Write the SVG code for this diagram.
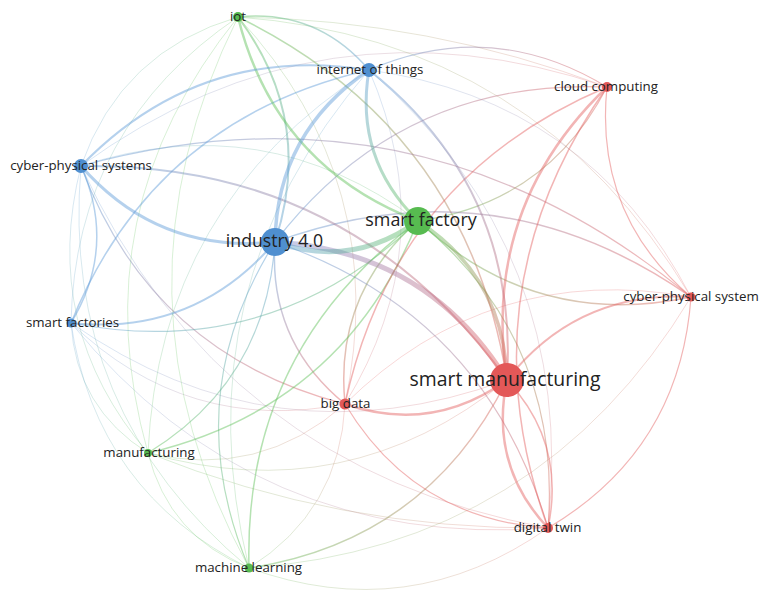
<svg xmlns="http://www.w3.org/2000/svg" width="759" height="598" viewBox="0 0 759 598">
<style>
.e{fill:none;stroke-opacity:0.45;stroke-linecap:round}
.f{fill:none;stroke-opacity:0.24;stroke-linecap:round}
.b{stroke:#5c9ad6}.g{stroke:#5cbf55}.r{stroke:#e25b5b}
.nb{fill:#4f8fd0}.ng{fill:#57bb50}.nr{fill:#e35858}
text{font-family:"Open Sans","Liberation Sans",sans-serif;fill:#222;text-anchor:middle}
.s{font-size:13.3px}
</style>
<defs>
<linearGradient id="g1" gradientUnits="userSpaceOnUse" x1="275" y1="242" x2="418" y2="221"><stop offset="0" stop-color="#5c9ad6"/><stop offset="1" stop-color="#5cbf55"/></linearGradient>
<linearGradient id="g2" gradientUnits="userSpaceOnUse" x1="507" y1="380" x2="275" y2="242"><stop offset="0" stop-color="#e25b5b"/><stop offset="1" stop-color="#7f8fd0"/></linearGradient>
<linearGradient id="g7" gradientUnits="userSpaceOnUse" x1="607" y1="87" x2="369" y2="70"><stop offset="0" stop-color="#e25b5b"/><stop offset="1" stop-color="#5c9ad6"/></linearGradient>
<linearGradient id="g8" gradientUnits="userSpaceOnUse" x1="369" y1="70" x2="418" y2="221"><stop offset="0" stop-color="#5c9ad6"/><stop offset="1" stop-color="#5cbf55"/></linearGradient>
<linearGradient id="g9" gradientUnits="userSpaceOnUse" x1="507" y1="380" x2="369" y2="70"><stop offset="0" stop-color="#e25b5b"/><stop offset="1" stop-color="#5c9ad6"/></linearGradient>
<linearGradient id="g11" gradientUnits="userSpaceOnUse" x1="275" y1="242" x2="238" y2="17"><stop offset="0" stop-color="#5c9ad6"/><stop offset="1" stop-color="#5cbf55"/></linearGradient>
<linearGradient id="g12" gradientUnits="userSpaceOnUse" x1="369" y1="70" x2="238" y2="17"><stop offset="0" stop-color="#5c9ad6"/><stop offset="1" stop-color="#5cbf55"/></linearGradient>
<linearGradient id="g13" gradientUnits="userSpaceOnUse" x1="607" y1="87" x2="238" y2="17"><stop offset="0" stop-color="#e25b5b"/><stop offset="1" stop-color="#5cbf55"/></linearGradient>
<linearGradient id="g13b" gradientUnits="userSpaceOnUse" x1="691" y1="297" x2="238" y2="17"><stop offset="0" stop-color="#e25b5b"/><stop offset="1" stop-color="#5cbf55"/></linearGradient>
<linearGradient id="g14" gradientUnits="userSpaceOnUse" x1="507" y1="380" x2="238" y2="17"><stop offset="0" stop-color="#e25b5b"/><stop offset="1" stop-color="#5cbf55"/></linearGradient>
<linearGradient id="g15" gradientUnits="userSpaceOnUse" x1="238" y1="17" x2="81" y2="166"><stop offset="0" stop-color="#5cbf55"/><stop offset="1" stop-color="#5c9ad6"/></linearGradient>
<linearGradient id="g18" gradientUnits="userSpaceOnUse" x1="238" y1="17" x2="71" y2="323"><stop offset="0" stop-color="#5cbf55"/><stop offset="1" stop-color="#5c9ad6"/></linearGradient>
<linearGradient id="g19" gradientUnits="userSpaceOnUse" x1="345" y1="404" x2="238" y2="17"><stop offset="0" stop-color="#e25b5b"/><stop offset="1" stop-color="#5cbf55"/></linearGradient>
<linearGradient id="g20" gradientUnits="userSpaceOnUse" x1="507" y1="380" x2="81" y2="166"><stop offset="0" stop-color="#e25b5b"/><stop offset="1" stop-color="#5c9ad6"/></linearGradient>
<linearGradient id="g21" gradientUnits="userSpaceOnUse" x1="691" y1="297" x2="81" y2="166"><stop offset="0" stop-color="#e25b5b"/><stop offset="1" stop-color="#5c9ad6"/></linearGradient>
<linearGradient id="g23" gradientUnits="userSpaceOnUse" x1="81" y1="166" x2="148" y2="453"><stop offset="0" stop-color="#5c9ad6"/><stop offset="1" stop-color="#5cbf55"/></linearGradient>
<linearGradient id="g25" gradientUnits="userSpaceOnUse" x1="71" y1="323" x2="418" y2="221"><stop offset="0" stop-color="#5c9ad6"/><stop offset="1" stop-color="#5cbf55"/></linearGradient>
<linearGradient id="g26" gradientUnits="userSpaceOnUse" x1="71" y1="323" x2="507" y2="380"><stop offset="0" stop-color="#5c9ad6"/><stop offset="1" stop-color="#e25b5b"/></linearGradient>
<linearGradient id="g27" gradientUnits="userSpaceOnUse" x1="507" y1="380" x2="418" y2="221"><stop offset="0" stop-color="#e25b5b"/><stop offset="1" stop-color="#5cbf55"/></linearGradient>
<linearGradient id="g28" gradientUnits="userSpaceOnUse" x1="418" y1="221" x2="691" y2="297"><stop offset="0" stop-color="#5cbf55"/><stop offset="1" stop-color="#e25b5b"/></linearGradient>
<linearGradient id="g29" gradientUnits="userSpaceOnUse" x1="418" y1="221" x2="345" y2="404"><stop offset="0" stop-color="#5cbf55"/><stop offset="1" stop-color="#e25b5b"/></linearGradient>
<linearGradient id="g32" gradientUnits="userSpaceOnUse" x1="418" y1="221" x2="607" y2="87"><stop offset="0" stop-color="#5cbf55"/><stop offset="1" stop-color="#e25b5b"/></linearGradient>
<linearGradient id="g33" gradientUnits="userSpaceOnUse" x1="548" y1="528" x2="418" y2="221"><stop offset="0" stop-color="#e25b5b"/><stop offset="1" stop-color="#5cbf55"/></linearGradient>
<linearGradient id="g34" gradientUnits="userSpaceOnUse" x1="418" y1="221" x2="81" y2="166"><stop offset="0" stop-color="#5cbf55"/><stop offset="1" stop-color="#5c9ad6"/></linearGradient>
<linearGradient id="g35" gradientUnits="userSpaceOnUse" x1="275" y1="242" x2="345" y2="404"><stop offset="0" stop-color="#5c9ad6"/><stop offset="1" stop-color="#e25b5b"/></linearGradient>
<linearGradient id="g36" gradientUnits="userSpaceOnUse" x1="607" y1="87" x2="275" y2="242"><stop offset="0" stop-color="#e25b5b"/><stop offset="1" stop-color="#5c9ad6"/></linearGradient>
<linearGradient id="g37" gradientUnits="userSpaceOnUse" x1="691" y1="297" x2="275" y2="242"><stop offset="0" stop-color="#e25b5b"/><stop offset="1" stop-color="#5c9ad6"/></linearGradient>
<linearGradient id="g38" gradientUnits="userSpaceOnUse" x1="548" y1="528" x2="275" y2="242"><stop offset="0" stop-color="#e25b5b"/><stop offset="1" stop-color="#5c9ad6"/></linearGradient>
<linearGradient id="g39" gradientUnits="userSpaceOnUse" x1="148" y1="453" x2="275" y2="242"><stop offset="0" stop-color="#5cbf55"/><stop offset="1" stop-color="#5c9ad6"/></linearGradient>
<linearGradient id="g40" gradientUnits="userSpaceOnUse" x1="275" y1="242" x2="249" y2="568"><stop offset="0" stop-color="#5c9ad6"/><stop offset="1" stop-color="#5cbf55"/></linearGradient>
<linearGradient id="g45" gradientUnits="userSpaceOnUse" x1="249" y1="568" x2="507" y2="380"><stop offset="0" stop-color="#5cbf55"/><stop offset="1" stop-color="#e25b5b"/></linearGradient>
<linearGradient id="g46" gradientUnits="userSpaceOnUse" x1="148" y1="453" x2="507" y2="380"><stop offset="0" stop-color="#5cbf55"/><stop offset="1" stop-color="#e25b5b"/></linearGradient>
<linearGradient id="g50" gradientUnits="userSpaceOnUse" x1="148" y1="453" x2="345" y2="404"><stop offset="0" stop-color="#5cbf55"/><stop offset="1" stop-color="#e25b5b"/></linearGradient>
<linearGradient id="g51" gradientUnits="userSpaceOnUse" x1="249" y1="568" x2="345" y2="404"><stop offset="0" stop-color="#5cbf55"/><stop offset="1" stop-color="#e25b5b"/></linearGradient>
<linearGradient id="g52" gradientUnits="userSpaceOnUse" x1="81" y1="166" x2="345" y2="404"><stop offset="0" stop-color="#5c9ad6"/><stop offset="1" stop-color="#e25b5b"/></linearGradient>
<linearGradient id="g53" gradientUnits="userSpaceOnUse" x1="345" y1="404" x2="369" y2="70"><stop offset="0" stop-color="#e25b5b"/><stop offset="1" stop-color="#5c9ad6"/></linearGradient>
<linearGradient id="g57" gradientUnits="userSpaceOnUse" x1="148" y1="453" x2="548" y2="528"><stop offset="0" stop-color="#5cbf55"/><stop offset="1" stop-color="#e25b5b"/></linearGradient>
<linearGradient id="g58" gradientUnits="userSpaceOnUse" x1="249" y1="568" x2="691" y2="297"><stop offset="0" stop-color="#5cbf55"/><stop offset="1" stop-color="#e25b5b"/></linearGradient>
<linearGradient id="g59" gradientUnits="userSpaceOnUse" x1="249" y1="568" x2="548" y2="528"><stop offset="0" stop-color="#5cbf55"/><stop offset="1" stop-color="#e25b5b"/></linearGradient>
<linearGradient id="g60" gradientUnits="userSpaceOnUse" x1="71" y1="323" x2="249" y2="568"><stop offset="0" stop-color="#5c9ad6"/><stop offset="1" stop-color="#5cbf55"/></linearGradient>
<linearGradient id="g61" gradientUnits="userSpaceOnUse" x1="81" y1="166" x2="249" y2="568"><stop offset="0" stop-color="#5c9ad6"/><stop offset="1" stop-color="#5cbf55"/></linearGradient>
<linearGradient id="g62" gradientUnits="userSpaceOnUse" x1="607" y1="87" x2="81" y2="166"><stop offset="0" stop-color="#e25b5b"/><stop offset="1" stop-color="#5c9ad6"/></linearGradient>
<linearGradient id="g63" gradientUnits="userSpaceOnUse" x1="691" y1="297" x2="369" y2="70"><stop offset="0" stop-color="#e25b5b"/><stop offset="1" stop-color="#5c9ad6"/></linearGradient>
<linearGradient id="g64" gradientUnits="userSpaceOnUse" x1="548" y1="528" x2="369" y2="70"><stop offset="0" stop-color="#e25b5b"/><stop offset="1" stop-color="#5c9ad6"/></linearGradient>
<linearGradient id="g65" gradientUnits="userSpaceOnUse" x1="369" y1="70" x2="148" y2="453"><stop offset="0" stop-color="#5c9ad6"/><stop offset="1" stop-color="#5cbf55"/></linearGradient>
<linearGradient id="g66" gradientUnits="userSpaceOnUse" x1="369" y1="70" x2="249" y2="568"><stop offset="0" stop-color="#5c9ad6"/><stop offset="1" stop-color="#5cbf55"/></linearGradient>
<linearGradient id="g67" gradientUnits="userSpaceOnUse" x1="81" y1="166" x2="548" y2="528"><stop offset="0" stop-color="#5c9ad6"/><stop offset="1" stop-color="#e25b5b"/></linearGradient>
<linearGradient id="g68" gradientUnits="userSpaceOnUse" x1="71" y1="323" x2="548" y2="528"><stop offset="0" stop-color="#5c9ad6"/><stop offset="1" stop-color="#e25b5b"/></linearGradient>
<linearGradient id="g69" gradientUnits="userSpaceOnUse" x1="71" y1="323" x2="148" y2="453"><stop offset="0" stop-color="#5c9ad6"/><stop offset="1" stop-color="#5cbf55"/></linearGradient>
<linearGradient id="g70" gradientUnits="userSpaceOnUse" x1="71" y1="323" x2="345" y2="404"><stop offset="0" stop-color="#5c9ad6"/><stop offset="1" stop-color="#e25b5b"/></linearGradient>
</defs>
<g id="connectors">
<path class="f" stroke="url(#g62)" d="M607 87 Q323 -10 81 166"/>
<path class="f" stroke="url(#g13)" d="M607 87 Q430 20 238 17"/>
<path class="f" stroke="url(#g13b)" d="M691 297 Q537 39 238 17"/>
<path class="f" stroke="url(#g63)" d="M691 297 Q589 100 369 70"/>
<path class="f" stroke="url(#g64)" d="M548 528 Q578 252 369 70"/>
<path class="f" stroke="url(#g65)" d="M369 70 Q159 204 148 453"/>
<path class="f" stroke="url(#g66)" d="M369 70 Q180 288 249 568"/>
<path class="f" stroke="url(#g67)" d="M81 166 Q220 468 548 528"/>
<path class="f" stroke="url(#g68)" d="M71 323 Q256 550 548 528"/>
<path class="f" stroke="url(#g69)" d="M71 323 Q76 408 148 453"/>
<path class="f" stroke="url(#g70)" d="M71 323 Q187 435 345 404"/>
<path class="f" stroke="url(#g60)" d="M71 323 Q96 492 249 568"/>
<path class="f" stroke="url(#g61)" d="M81 166 Q60 411 249 568"/>
<path class="f" stroke="url(#g57)" d="M148 453 Q340 530 548 528"/>
<path class="f" stroke="url(#g58)" d="M249 568 Q540 547 691 297"/>
<path class="f" stroke="url(#g59)" d="M249 568 Q409 626 548 528"/>
<path class="f" stroke="url(#g50)" d="M148 453 Q259 480 345 404"/>
<path class="f" stroke="url(#g51)" d="M249 568 Q340 511 345 404"/>
<path class="f" stroke="url(#g46)" d="M148 453 Q347 510 507 380"/>
<path class="f" stroke="url(#g26)" d="M71 323 Q274 465 507 380"/>
<path class="f" stroke="url(#g23)" d="M81 166 Q40 327 148 453"/>
<path class="f" stroke="url(#g34)" d="M418 221 Q264 106 81 166"/>
<path class="f" stroke="url(#g18)" d="M238 17 Q75 127 71 323"/>
<path class="f" stroke="url(#g15)" d="M238 17 Q121 51 81 166"/>
<path class="f g" d="M238 17 Q100 295 249 568"/>
<path class="f g" d="M238 17 Q80 212 148 453"/>
<path class="f g" d="M148 453 Q169 537 249 568"/>
<path class="f r" d="M691 297 Q490 261 345 404"/>
<path class="f" stroke="url(#g53)" d="M345 404 Q444 243 369 70"/>
<path class="f" stroke="url(#g19)" d="M345 404 Q392 183 238 17"/>
<path class="e" stroke="url(#g52)" stroke-width="1.2" d="M81 166 Q151 354 345 404"/>
<path class="e" stroke="url(#g7)" stroke-width="1.2" d="M607 87 Q492 17 369 70"/>
<path class="e" stroke="url(#g12)" stroke-width="1.5" d="M369 70 Q317 9 238 17"/>
<path class="e" stroke="url(#g14)" stroke-width="1.5" d="M507 380 Q467 129 238 17"/>
<path class="e" stroke="url(#g21)" stroke-width="1.2" d="M691 297 Q420 73 81 166"/>
<path class="e" stroke="url(#g25)" stroke-width="1.2" d="M71 323 Q271 362 418 221"/>
<path class="e" stroke="url(#g28)" stroke-width="1.5" d="M418 221 Q535 330 691 297"/>
<path class="e" stroke="url(#g29)" stroke-width="1.5" d="M418 221 Q334 294 345 404"/>
<path class="e" stroke="url(#g32)" stroke-width="1.2" d="M418 221 Q547 203 607 87"/>
<path class="e" stroke="url(#g33)" stroke-width="1.2" d="M548 528 Q563 341 418 221"/>
<path class="e" stroke="url(#g35)" stroke-width="1.5" d="M275 242 Q268 341 345 404"/>
<path class="e" stroke="url(#g36)" stroke-width="1.2" d="M607 87 Q401 78 275 242"/>
<path class="e" stroke="url(#g37)" stroke-width="1.5" d="M691 297 Q497 161 275 242"/>
<path class="e" stroke="url(#g38)" stroke-width="1.2" d="M548 528 Q486 314 275 242"/>
<path class="e" stroke="url(#g39)" stroke-width="1.2" d="M148 453 Q266 381 275 242"/>
<path class="e" stroke="url(#g40)" stroke-width="1.2" d="M275 242 Q177 398 249 568"/>
<path class="e" stroke="url(#g45)" stroke-width="1.5" d="M249 568 Q427 541 507 380"/>
<path class="e g" stroke-width="1.5" d="M148 453 Q343 407 418 221"/>
<path class="e g" stroke-width="1.5" d="M418 221 Q243 351 249 568"/>
<path class="e b" stroke-width="1.5" d="M71 323 Q117 247 81 166"/>
<path class="e b" stroke-width="1.5" d="M369 70 Q154 119 71 323"/>
<path class="e r" stroke-width="1.2" d="M607 87 Q594 214 691 297"/>
<path class="e r" stroke-width="1.5" d="M607 87 Q463 292 548 528"/>
<path class="e r" stroke-width="1.2" d="M548 528 Q680 450 691 297"/>
<path class="e r" stroke-width="1.5" d="M607 87 Q394 177 345 404"/>
<path class="e r" stroke-width="1.2" d="M345 404 Q414 519 548 528"/>
<path class="e r" stroke-width="1.5" d="M548 528 Q566 443 507 380"/>
<path class="e r" stroke-width="2.5" d="M507 380 Q489 465 548 528"/>
<path class="e r" stroke-width="2.5" d="M345 404 Q432 434 507 380"/>
<path class="e r" stroke-width="2" d="M691 297 Q577 291 507 380"/>
<path class="e r" stroke-width="2.5" d="M607 87 Q481 208 507 380"/>
<path class="e" stroke="url(#g20)" stroke-width="2" d="M507 380 Q350 162 81 166"/>
<path class="e" stroke="url(#g9)" stroke-width="2" d="M507 380 Q519 189 369 70"/>
<path class="e" stroke="url(#g11)" stroke-width="2" d="M275 242 Q315 120 238 17"/>
<path class="e g" stroke-width="2.5" d="M238 17 Q275 166 418 221"/>
<path class="e b" stroke-width="2" d="M369 70 Q200 43 81 166"/>
<path class="e b" stroke-width="2" d="M71 323 Q194 336 275 242"/>
<path class="e b" stroke-width="3" d="M81 166 Q158 254 275 242"/>
<path class="e b" stroke-width="3.5" d="M369 70 Q277 132 275 242"/>
<path class="e" stroke="url(#g8)" stroke-width="3" d="M369 70 Q354 158 418 221"/>
<path class="e" stroke="url(#g27)" stroke-width="3.5" d="M507 380 Q504 277 418 221"/>
<path class="e" stroke="url(#g2)" stroke-width="5" d="M507 380 Q427 251 275 242"/>
<path class="e" stroke="url(#g1)" stroke-width="5" d="M275 242 Q352 269 418 221"/>
</g>
<g id="node-iot"><circle class="ng" cx="238" cy="17" r="5"/><text class="s" x="238" y="20.6">iot</text></g>
<g id="node-internet-of-things"><circle class="nb" cx="369" cy="70" r="7"/><text class="s" x="370" y="73.6">internet of things</text></g>
<g id="node-cloud-computing"><circle class="nr" cx="607" cy="87" r="5"/><text class="s" x="606" y="90.6">cloud computing</text></g>
<g id="node-cyber-physical-systems"><circle class="nb" cx="81" cy="166" r="7"/><text class="s" x="81" y="169.6">cyber-physical systems</text></g>
<g id="node-smart-factory"><circle class="ng" cx="418" cy="221" r="14"/><text x="421" y="226" style="font-size:17.9px">smart factory</text></g>
<g id="node-industry-4-0"><circle class="nb" cx="275" cy="242" r="14"/><text x="274.5" y="246.5" style="font-size:17.7px">industry 4.0</text></g>
<g id="node-cyber-physical-system"><circle class="nr" cx="691" cy="297" r="4.5"/><text class="s" x="691" y="300.6">cyber-physical system</text></g>
<g id="node-smart-factories"><circle class="nb" cx="71" cy="323" r="4.5"/><text class="s" x="72.5" y="326.6">smart factories</text></g>
<g id="node-smart-manufacturing"><circle class="nr" cx="507" cy="380" r="17"/><text x="505" y="385.5" style="font-size:19.4px">smart manufacturing</text></g>
<g id="node-big-data"><circle class="nr" cx="345" cy="404" r="5.5"/><text class="s" x="345.5" y="407.6">big data</text></g>
<g id="node-manufacturing"><circle class="ng" cx="148" cy="453" r="4"/><text class="s" x="149" y="456.6">manufacturing</text></g>
<g id="node-digital-twin"><circle class="nr" cx="548" cy="528" r="5"/><text class="s" x="547.5" y="531.6">digital twin</text></g>
<g id="node-machine-learning"><circle class="ng" cx="249" cy="568" r="4.5"/><text class="s" x="248.5" y="571.6">machine learning</text></g>
</svg>
